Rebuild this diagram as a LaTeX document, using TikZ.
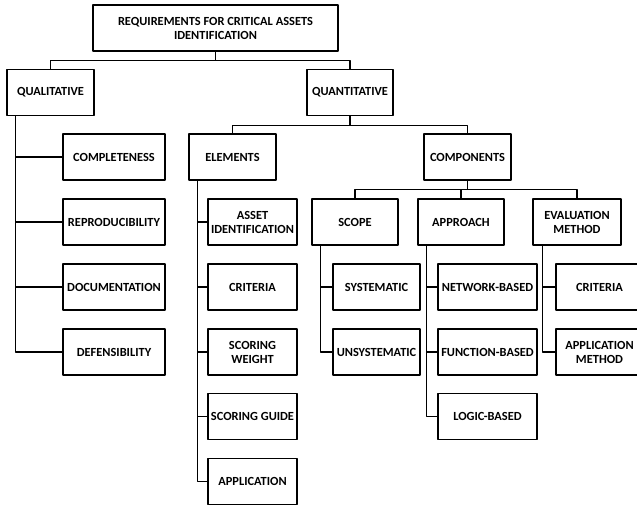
\documentclass[tikz,border=0pt]{standalone}
\usepackage{fontspec}
\setmainfont{Carlito}
\begin{document}
\begin{tikzpicture}[x=1pt,y=-1pt,line join=round,font=\bfseries\fontsize{12.4}{14}\selectfont,
	box/.style={draw,line width=1.2pt,minimum height=46pt,inner sep=1pt,align=center},
	link/.style={line width=1.2pt}]
	\useasboundingbox (0,0) rectangle (637,506);
	\node[box,minimum width=245pt] (req) at (215.5,28) {REQUIREMENTS FOR CRITICAL ASSETS\\IDENTIFICATION};
	\node[box,minimum width=87pt] (qual) at (50.5,92.5) {QUALITATIVE};
	\node[box,minimum width=86pt] (quant) at (350,92.5) {QUANTITATIVE};
	\node[box,minimum width=102pt] (compl) at (114,157) {COMPLETENESS};
	\node[box,minimum width=102pt] (repro) at (114,222) {REPRODUCIBILITY};
	\node[box,minimum width=102pt] (docu) at (114,287) {DOCUMENTATION};
	\node[box,minimum width=102pt] (defen) at (114,352) {DEFENSIBILITY};
	\node[box,minimum width=87pt] (elem) at (232.5,157) {ELEMENTS};
	\node[box,minimum width=87pt] (compo) at (467.5,157) {COMPONENTS};
	\node[box,minimum width=89pt] (asset) at (252.5,222) {ASSET\\IDENTIFICATION};
	\node[box,minimum width=89pt] (crit) at (252.5,287) {CRITERIA};
	\node[box,minimum width=89pt] (weight) at (252.5,352) {SCORING\\WEIGHT};
	\node[box,minimum width=89pt] (guide) at (252.5,416.5) {SCORING GUIDE};
	\node[box,minimum width=89pt] (appl) at (252.5,481.5) {APPLICATION};
	\node[box,minimum width=86pt] (scope) at (355,222) {SCOPE};
	\node[box,minimum width=86pt] (appr) at (461,222) {APPROACH};
	\node[box,minimum width=88pt] (eval) at (577,222) {EVALUATION\\METHOD};
	\node[box,minimum width=87pt] (syst) at (376.5,287) {SYSTEMATIC};
	\node[box,minimum width=87pt] (unsyst) at (376.5,352) {UNSYSTEMATIC};
	\node[box,minimum width=99pt] (netw) at (487.5,287) {NETWORK-BASED};
	\node[box,minimum width=99pt] (func) at (487.5,352) {FUNCTION-BASED};
	\node[box,minimum width=99pt] (logic) at (487.5,416.5) {LOGIC-BASED};
	\node[box,minimum width=87pt] (ecrit) at (599.5,287) {CRITERIA};
	\node[box,minimum width=87pt] (emeth) at (599.5,352) {APPLICATION\\METHOD};
	\draw[link] (req.south)--++(0,9)-|(qual.north) (req.south)--++(0,9)-|(quant.north);
	\draw[link] (quant.south)--++(0,9)-|(elem.north) (quant.south)--++(0,9)-|(compo.north);
	\draw[link] (compo.south)--++(0,9)-|(scope.north) (compo.south)--++(0,9)-|(appr.north) (compo.south)--++(0,9)-|(eval.north);
	\coordinate (qualbus) at ([xshift=9pt]qual.south west);
	\coordinate (elembus) at ([xshift=9pt]elem.south west);
	\coordinate (scopebus) at ([xshift=9pt]scope.south west);
	\coordinate (apprbus) at ([xshift=9pt]appr.south west);
	\coordinate (evalbus) at ([xshift=10pt]eval.south west);
	\foreach \n in {compl,repro,docu,defen} \draw[link] (qualbus)|-(\n.west);
	\foreach \n in {asset,crit,weight,guide,appl} \draw[link] (elembus)|-(\n.west);
	\foreach \n in {syst,unsyst} \draw[link] (scopebus)|-(\n.west);
	\foreach \n in {netw,func,logic} \draw[link] (apprbus)|-(\n.west);
	\foreach \n in {ecrit,emeth} \draw[link] (evalbus)|-(\n.west);
\end{tikzpicture}
\end{document}
